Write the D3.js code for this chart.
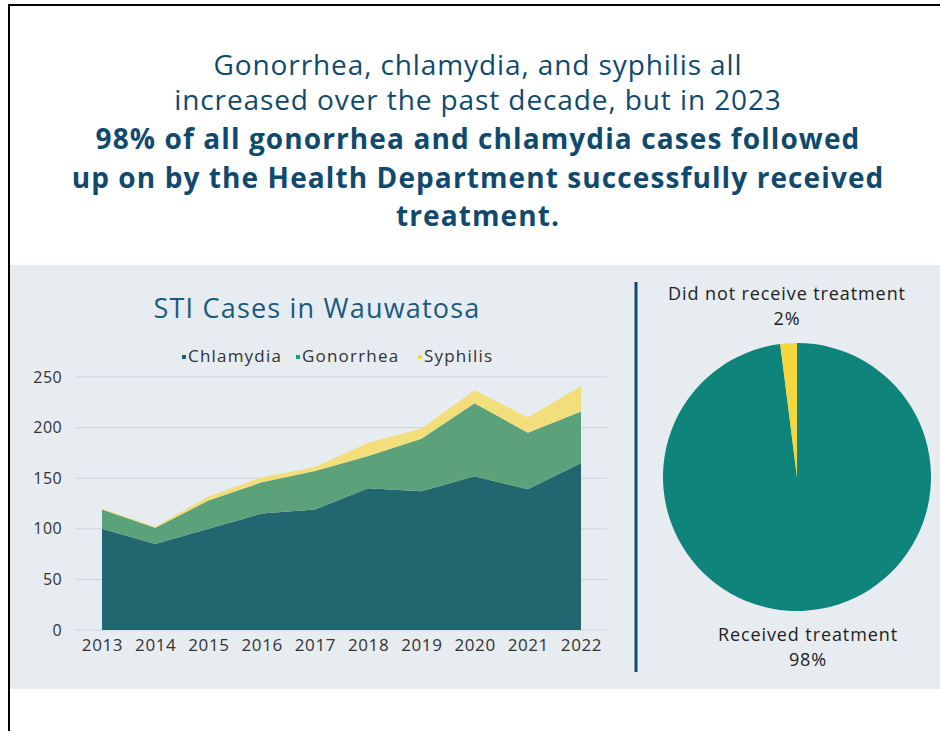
<!DOCTYPE html>
<html>
<head>
<meta charset="utf-8">
<script src="https://cdn.jsdelivr.net/npm/d3@7"></script>
<style>
    html, body { margin: 0; padding: 0; background: #ffffff; }
    svg { display: block; font-family: 'Open Sans', sans-serif; }
</style>
</head>
<body>
<div id="chart"></div>
<script>
// STI cases by year
const years = [2013, 2014, 2015, 2016, 2017, 2018, 2019, 2020, 2021, 2022];
const chlamydia = [100, 85, 100, 115, 119, 140, 137, 152, 139, 165];
const gonorrhea = [19, 16, 28, 31, 38, 32, 52, 72, 56, 51];
const syphilis = [1, 1, 4, 5, 4, 13, 10, 13, 15, 25];
const seriesNames = ['Chlamydia', 'Gonorrhea', 'Syphilis'];
const seriesColors = ['#22666f', '#5ba27b', '#f2df7c'];
const legendColors = ['#1a5a7e', '#1a9a8a', '#f5d63d'];
const yTicks = [0, 50, 100, 150, 200, 250];

// treatment outcome, 2023
const pieLabels = ['Received treatment', 'Did not receive treatment'];
const pieValues = [98, 2];
const pieColors = ['#0e847a', '#f5d63d'];

const titleLines = [
    { text: 'Gonorrhea, chlamydia, and syphilis all', bold: false },
    { text: 'increased over the past decade, but in 2023', bold: false },
    { text: '98% of all gonorrhea and chlamydia cases followed', bold: true },
    { text: 'up on by the Health Department successfully received', bold: true },
    { text: 'treatment.', bold: true }
];

const width = 940, height = 731;
const svg = d3.select('#chart').append('svg')
    .attr('width', width)
    .attr('height', height);

// page frame
svg.append('rect').attr('width', width).attr('height', height).attr('fill', '#ffffff');
svg.append('line')
    .attr('x1', 8).attr('y1', 5).attr('x2', width).attr('y2', 5)
    .attr('stroke', '#000').attr('stroke-width', 2);
svg.append('line')
    .attr('x1', 9).attr('y1', 4).attr('x2', 9).attr('y2', height)
    .attr('stroke', '#000').attr('stroke-width', 2);

// headline
const titleY = [68, 103, 142, 181, 219];
svg.append('g').selectAll('text')
    .data(titleLines)
    .join('text')
    .attr('x', 478)
    .attr('y', (d, i) => titleY[i])
    .attr('text-anchor', 'middle')
    .attr('dominant-baseline', 'middle')
    .attr('fill', '#0f4a6e')
    .attr('font-size', 28)
    .attr('letter-spacing', d => d.bold ? 1.1 : 0.9)
    .attr('font-weight', d => d.bold ? 700 : 400)
    .text(d => d.text);

// grey panel
svg.append('rect')
    .attr('x', 10).attr('y', 265)
    .attr('width', width - 10).attr('height', 424)
    .attr('fill', '#e6ecf0');

// divider between the two charts
svg.append('line')
    .attr('x1', 636).attr('y1', 282).attr('x2', 636).attr('y2', 672)
    .attr('stroke', '#0f4a75').attr('stroke-width', 3);

/** Stacked area chart **/
svg.append('text')
    .attr('x', 317).attr('y', 311)
    .attr('text-anchor', 'middle').attr('dominant-baseline', 'middle')
    .attr('fill', '#1a5a7e').attr('font-size', 27)
    .attr('letter-spacing', 1.2)
    .text('STI Cases in Wauwatosa');

const xScale = d3.scalePoint().domain(years).range([102, 581]);
const yScale = d3.scaleLinear().domain([0, 250]).range([630, 377]);

const rows = years.map((y, i) => ({
    year: y, Chlamydia: chlamydia[i], Gonorrhea: gonorrhea[i], Syphilis: syphilis[i]
}));
const stacked = d3.stack().keys(seriesNames)(rows);

// gridlines
svg.append('g').selectAll('line')
    .data(yTicks)
    .join('line')
    .attr('x1', 75).attr('x2', 607)
    .attr('y1', d => yScale(d)).attr('y2', d => yScale(d))
    .attr('stroke', '#cfd5da').attr('stroke-width', 1);

const area = d3.area()
    .x(d => xScale(d.data.year))
    .y0(d => yScale(d[0]))
    .y1(d => yScale(d[1]));

svg.append('g').selectAll('path')
    .data(stacked)
    .join('path')
    .attr('d', area)
    .attr('fill', (d, i) => seriesColors[i]);

// y axis labels
const yAxis = d3.axisLeft(yScale).tickValues(yTicks).tickSize(0).tickPadding(0);
const yAxisG = svg.append('g').attr('transform', 'translate(62,0)').call(yAxis);
yAxisG.select('.domain').remove();
yAxisG.selectAll('text')
    .attr('font-family', "'Open Sans', sans-serif")
    .attr('font-size', 16).attr('letter-spacing', 0.4).attr('fill', '#333');

// x axis labels
const xAxis = d3.axisBottom(xScale).tickSize(0).tickPadding(0);
const xAxisG = svg.append('g').attr('transform', 'translate(0,639)').call(xAxis);
xAxisG.select('.domain').remove();
xAxisG.selectAll('text')
    .attr('font-family', "'Open Sans', sans-serif")
    .attr('font-size', 17).attr('letter-spacing', 0.6).attr('fill', '#333');

// legend
const legendX = [182, 296, 418];
const legend = svg.append('g').selectAll('g')
    .data(seriesNames)
    .join('g')
    .attr('transform', (d, i) => 'translate(' + legendX[i] + ',357)');
legend.append('rect')
    .attr('x', 0).attr('y', -2).attr('width', 4).attr('height', 4)
    .attr('fill', (d, i) => legendColors[i]);
legend.append('text')
    .attr('x', 6).attr('y', 0)
    .attr('dominant-baseline', 'middle')
    .attr('font-size', 17).attr('letter-spacing', 1.2).attr('fill', '#333')
    .text(d => d);

/** Pie chart **/
const pieCx = 797, pieCy = 477, pieR = 134;
const pie = d3.pie().sort(null).value(d => d);
const arc = d3.arc().innerRadius(0).outerRadius(pieR);
svg.append('g')
    .attr('transform', 'translate(' + pieCx + ',' + pieCy + ')')
    .selectAll('path')
    .data(pie(pieValues))
    .join('path')
    .attr('d', arc)
    .attr('fill', (d, i) => pieColors[i]);

// pie labels
const pieText = [
    { lines: [pieLabels[1], pieValues[1] + '%'], x: 787, y: 295 },
    { lines: [pieLabels[0], pieValues[0] + '%'], x: 808, y: 636 }
];
pieText.forEach(t => {
    svg.append('g').selectAll('text')
        .data(t.lines)
        .join('text')
        .attr('x', t.x)
        .attr('y', (d, i) => t.y + i * 25)
        .attr('text-anchor', 'middle')
        .attr('dominant-baseline', 'middle')
        .attr('font-size', 18).attr('letter-spacing', 0.9).attr('fill', '#222')
        .text(d => d);
});
</script>
</body>
</html>
